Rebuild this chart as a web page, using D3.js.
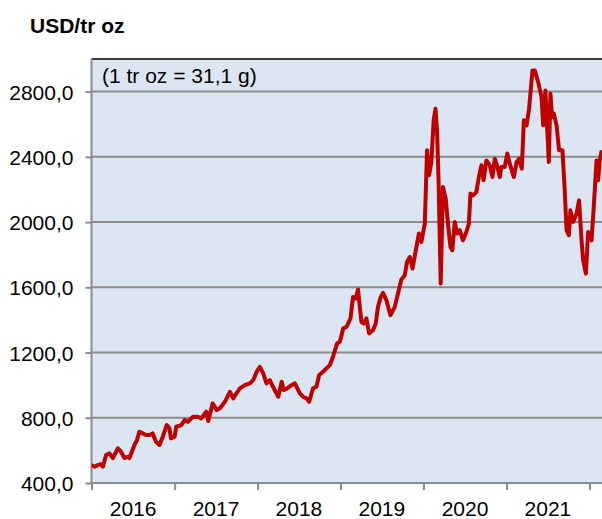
<!DOCTYPE html>
<html>
<head>
  <meta charset="utf-8">
  <title>USD/tr oz</title>
  <script src="https://d3js.org/d3.v7.min.js"></script>
  <style>
    body { margin: 0; background: #fff; }
    svg { display: block; font-family: "Liberation Sans", Arial, sans-serif; }
  </style>
</head>
<body>
<script>
// price series (USD per troy ounce)
var dates = [
  "2016-01-01","2016-01-15","2016-01-29","2016-02-12","2016-02-20","2016-03-05","2016-03-20","2016-04-04",
  "2016-04-26","2016-05-10","2016-05-25","2016-06-09","2016-06-16","2016-07-08","2016-07-19","2016-07-30",
  "2016-08-14","2016-08-28","2016-09-12","2016-09-26","2016-10-11","2016-10-26","2016-11-10","2016-11-27",
  "2016-12-09","2016-12-16","2017-01-01","2017-01-08","2017-01-30","2017-02-14","2017-02-28","2017-03-22",
  "2017-04-13","2017-04-28","2017-05-20","2017-05-29","2017-06-17","2017-07-05","2017-07-19","2017-08-10",
  "2017-09-01","2017-09-16","2017-09-30","2017-10-15","2017-11-06","2017-11-28","2017-12-13","2017-12-28",
  "2018-01-11","2018-01-26","2018-02-09","2018-02-24","2018-03-10","2018-04-02","2018-04-17","2018-04-26",
  "2018-05-11","2018-05-30","2018-06-14","2018-07-06","2018-07-20","2018-08-04","2018-08-16","2018-09-02",
  "2018-09-17","2018-09-29","2018-10-16","2018-10-31","2018-11-15","2018-11-29","2018-12-17","2018-12-29",
  "2019-01-13","2019-01-28","2019-02-14","2019-02-25","2019-03-09","2019-03-19","2019-04-03","2019-04-13",
  "2019-04-25","2019-05-07","2019-05-24","2019-06-05","2019-06-15","2019-06-27","2019-07-07","2019-07-22",
  "2019-08-09","2019-08-28","2019-09-11","2019-09-26","2019-10-11","2019-10-21","2019-11-02","2019-11-14",
  "2019-12-01","2019-12-12","2019-12-23","2020-01-07","2020-01-17","2020-01-26","2020-02-05","2020-02-15",
  "2020-02-23","2020-03-01","2020-03-08","2020-03-17","2020-03-27","2020-04-08","2020-04-18","2020-04-29",
  "2020-05-07","2020-05-18","2020-05-28","2020-06-09","2020-06-23","2020-07-08","2020-07-19","2020-07-26",
  "2020-08-06","2020-08-21","2020-09-01","2020-09-12","2020-09-22","2020-10-04","2020-10-19","2020-10-31",
  "2020-11-10","2020-11-20","2020-12-02","2020-12-09","2020-12-24","2021-01-04","2021-01-15","2021-02-02",
  "2021-02-14","2021-02-25","2021-03-09","2021-03-18","2021-03-30","2021-04-10","2021-04-25","2021-05-05",
  "2021-05-20","2021-06-04","2021-06-11","2021-06-21","2021-06-28","2021-07-06","2021-07-13","2021-07-20",
  "2021-07-28","2021-08-09","2021-08-20","2021-09-04","2021-09-14","2021-09-22","2021-10-02","2021-10-09",
  "2021-10-21","2021-11-05","2021-11-16","2021-11-27","2021-12-04","2021-12-16","2021-12-26","2022-01-10",
  "2022-01-21","2022-02-01","2022-02-08","2022-02-15","2022-02-24"
];
var prices = [
  510, 500, 510, 516, 500, 572, 582, 553,
  613, 592, 553, 561, 553, 633, 663, 714,
  704, 694, 694, 704, 653, 633, 684, 755,
  735, 674, 684, 745, 755, 786, 775, 806,
  806, 796, 837, 780, 888, 847, 858, 898,
  959, 919, 950, 980, 1000, 1011, 1031, 1082,
  1112, 1072, 1011, 1031, 990, 929, 1021, 970,
  980, 1000, 1011, 950, 929, 919, 898, 980,
  990, 1062, 1082, 1103, 1123, 1174, 1256, 1266,
  1348, 1358, 1409, 1541, 1531, 1587, 1388, 1378,
  1409, 1317, 1337, 1378, 1480, 1541, 1566, 1521,
  1429, 1480, 1562, 1648, 1674, 1756, 1786, 1715,
  1847, 1930, 1878, 1991, 2440, 2287, 2368, 2624,
  2695, 2562, 2236, 1623, 2215, 2144, 1991, 1847,
  1827, 2001, 1930, 1950, 1888, 1939, 1991, 2175,
  2164, 2184, 2276, 2348, 2256, 2378, 2348, 2276,
  2389, 2348, 2276, 2338, 2338, 2420, 2358, 2276,
  2368, 2389, 2328, 2624, 2593, 2695, 2930, 2930,
  2858, 2766, 2593, 2807, 2593, 2368, 2787, 2644,
  2665, 2593, 2440, 2440, 2195, 1950, 1919, 2072,
  2001, 2052, 2133, 1888, 1766, 1684, 1939, 1888,
  2123, 2378, 2256, 2378, 2440
];
var yTicks = [400, 800, 1200, 1600, 2000, 2400, 2800];
var years = [2016, 2017, 2018, 2019, 2020, 2021];
var yMin = 400, yMax = 3000;

var width = 602, height = 519;
var plotLeft = 91.5, plotTop = 59, plotBottom = 483, yearWidth = 83;
var fontSize = "21px";

var parse = d3.timeParse("%Y-%m-%d");
var data = dates.map(function(d, i) { return { date: parse(d), value: prices[i] }; });

var x = d3.scaleTime()
    .domain([new Date(2016, 0, 1), new Date(2022, 0, 1)])
    .range([plotLeft, plotLeft + 6 * yearWidth]);
var y = d3.scaleLinear()
    .domain([yMin, yMax])
    .range([plotBottom, plotTop]);

var svg = d3.select("body").append("svg")
    .attr("width", width)
    .attr("height", height);

// plot background
svg.append("rect")
    .attr("x", plotLeft).attr("y", plotTop)
    .attr("width", width - plotLeft + 10).attr("height", plotBottom - plotTop)
    .attr("fill", "#dce6f2");

svg.append("clipPath").attr("id", "plot")
  .append("rect")
    .attr("x", plotLeft).attr("y", plotTop)
    .attr("width", width - plotLeft + 10).attr("height", plotBottom - plotTop);

// grid lines
svg.selectAll(".grid")
    .data(yTicks.slice(1))
    .enter().append("line")
    .attr("x1", plotLeft).attr("x2", width + 10)
    .attr("y1", function(d) { return y(d); })
    .attr("y2", function(d) { return y(d); })
    .attr("stroke", "#8c8c8c")
    .attr("stroke-width", 2);

// top border
svg.append("line")
    .attr("x1", plotLeft).attr("x2", width + 10)
    .attr("y1", plotTop).attr("y2", plotTop)
    .attr("stroke", "#3a3a3a")
    .attr("stroke-width", 2);

// y axis
var yAxis = svg.append("g")
    .attr("transform", "translate(" + plotLeft + ",0)")
    .call(d3.axisLeft(y)
      .tickValues(yTicks)
      .tickSize(6)
      .tickPadding(12)
      .tickFormat(function(d) { return d3.format(".1f")(d).replace(".", ","); }));
yAxis.select(".domain")
    .attr("d", "M0," + plotTop + "V" + plotBottom)
    .attr("stroke", "#8c8c8c").attr("stroke-width", 2);
yAxis.selectAll(".tick line").attr("stroke", "#8c8c8c").attr("stroke-width", 2);
yAxis.selectAll(".tick text")
    .attr("fill", "#000")
    .style("font-size", fontSize)
    .attr("dy", "0.36em");

// x axis: year boundaries as ticks, labels centred in each year
var xAxis = svg.append("g")
    .attr("transform", "translate(0," + plotBottom + ")")
    .call(d3.axisBottom(x)
      .tickValues(d3.range(2016, 2023).map(function(yr) { return new Date(yr, 0, 1); }))
      .tickSize(7)
      .tickFormat(""));
xAxis.select(".domain")
    .attr("d", "M" + plotLeft + ",0H" + (width + 10))
    .attr("stroke", "#8c8c8c").attr("stroke-width", 2);
xAxis.selectAll(".tick line").attr("stroke", "#8c8c8c").attr("stroke-width", 2);

svg.selectAll(".year")
    .data(years)
    .enter().append("text")
    .attr("x", function(d) { return x(new Date(d, 6, 2)); })
    .attr("y", 516)
    .attr("text-anchor", "middle")
    .style("font-size", fontSize)
    .text(function(d) { return d; });

// the price line
var line = d3.line()
    .x(function(d) { return x(d.date); })
    .y(function(d) { return y(d.value); });

svg.append("path")
    .datum(data)
    .attr("clip-path", "url(#plot)")
    .attr("fill", "none")
    .attr("stroke", "#c00000")
    .attr("stroke-width", 4)
    .attr("stroke-linejoin", "round")
    .attr("d", line);

// labels
svg.append("text")
    .attr("x", 30).attr("y", 33)
    .style("font-size", fontSize)
    .style("font-weight", "bold")
    .text("USD/tr oz");

svg.append("text")
    .attr("x", 102).attr("y", 83)
    .style("font-size", fontSize)
    .text("(1 tr oz = 31,1 g)");
</script>
</body>
</html>
